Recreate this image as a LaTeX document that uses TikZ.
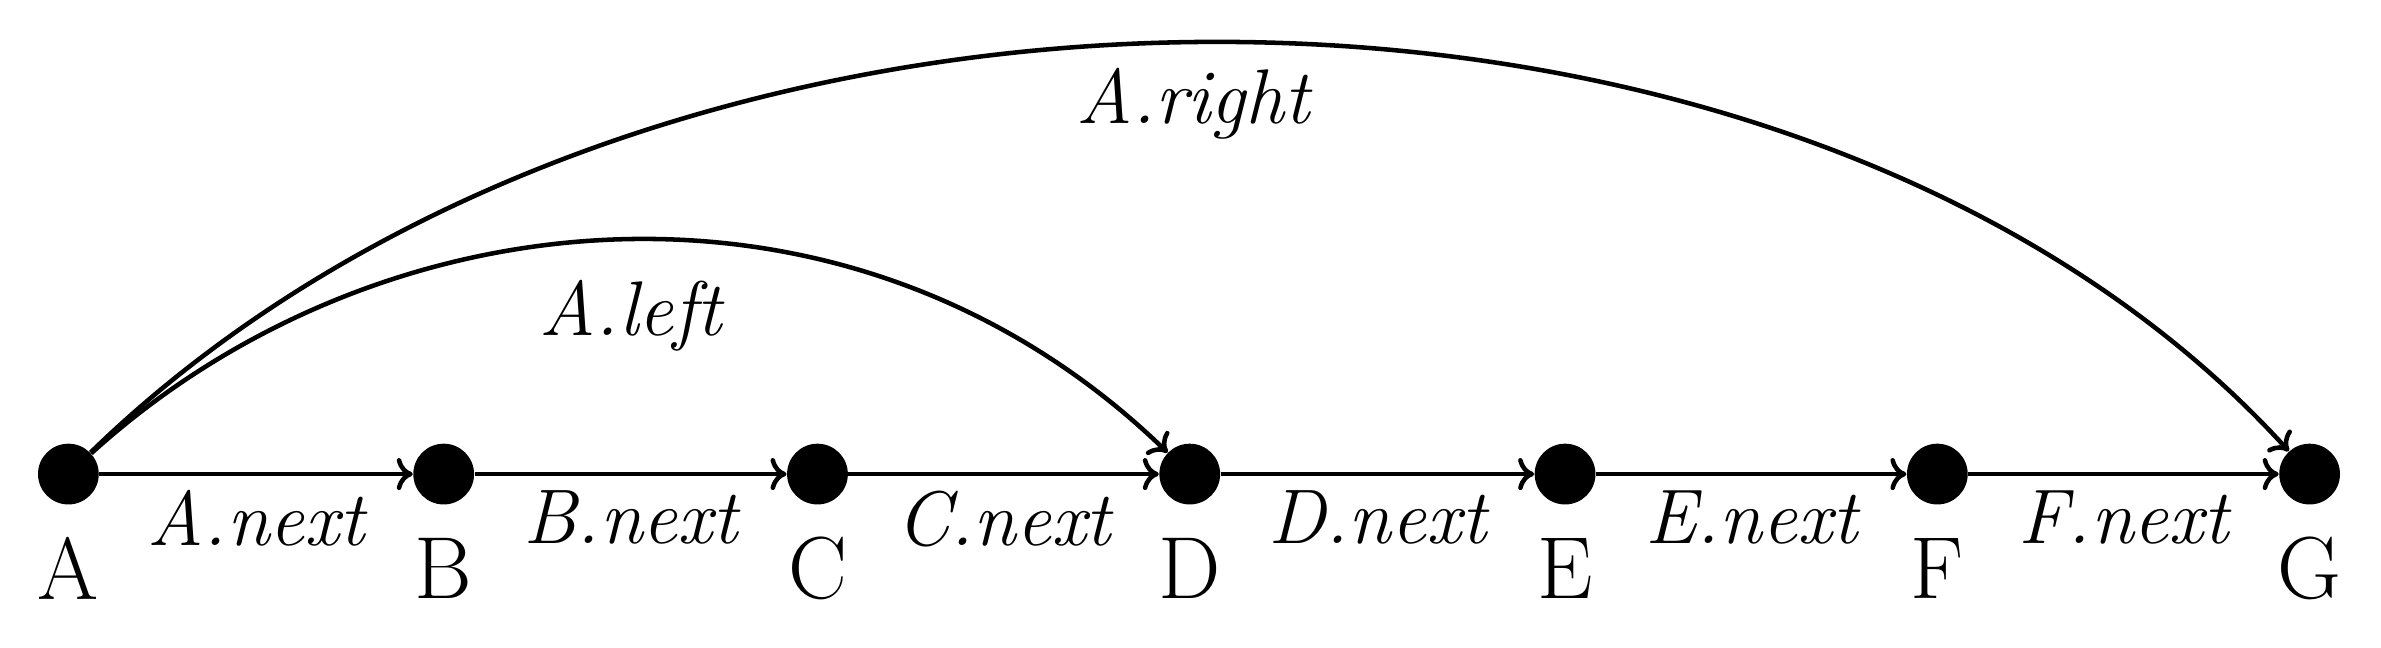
\documentclass[tikz,border=0pt]{standalone}
\usetikzlibrary{arrows.meta}
\begin{document}
\begin{tikzpicture}[x=0.02cm,y=0.02cm,
  dot/.style={circle,fill=black,inner sep=0pt,minimum size=0.8cm},
  lbl/.style={font=\fontsize{33}{38}\selectfont},
  elbl/.style={font=\fontsize{29}{34}\selectfont\itshape},
  edge/.style={line width=1.7pt,-{To[length=6pt,width=12pt,line width=1.7pt]}}]
\useasboundingbox (0,0) rectangle (1567,426);
\foreach \n/\x in {A/45,B/292,C/538,D/783,E/1030,F/1275,G/1520}{
  \node[dot] (\n) at (\x,114) {};
  \node[lbl] (\n l) at (\x,52) {\n};
}
\draw[edge] (A) -- node[elbl,below=2pt] (la) {A.next} (B);
\draw[edge] (B) -- node[elbl,below=2pt] (lb) {B.next} (C);
\draw[edge] (C) -- node[elbl,below=2pt] (lc) {C.next} (D);
\draw[edge] (D) -- node[elbl,below=2pt] (ld) {D.next} (E);
\draw[edge] (E) -- node[elbl,below=2pt] (le) {E.next} (F);
\draw[edge] (F) -- node[elbl,below=2pt] (lf) {F.next} (G);
\draw[edge] (A) .. controls (250,300) and (560,330) .. (D);
\node[elbl] (lleft) at (415,218) {A.left};
\draw[edge] (A) .. controls (430,488) and (1180,488) .. (G);
\node[elbl] (lright) at (785,358) {A.right};
\end{tikzpicture}
\end{document}
